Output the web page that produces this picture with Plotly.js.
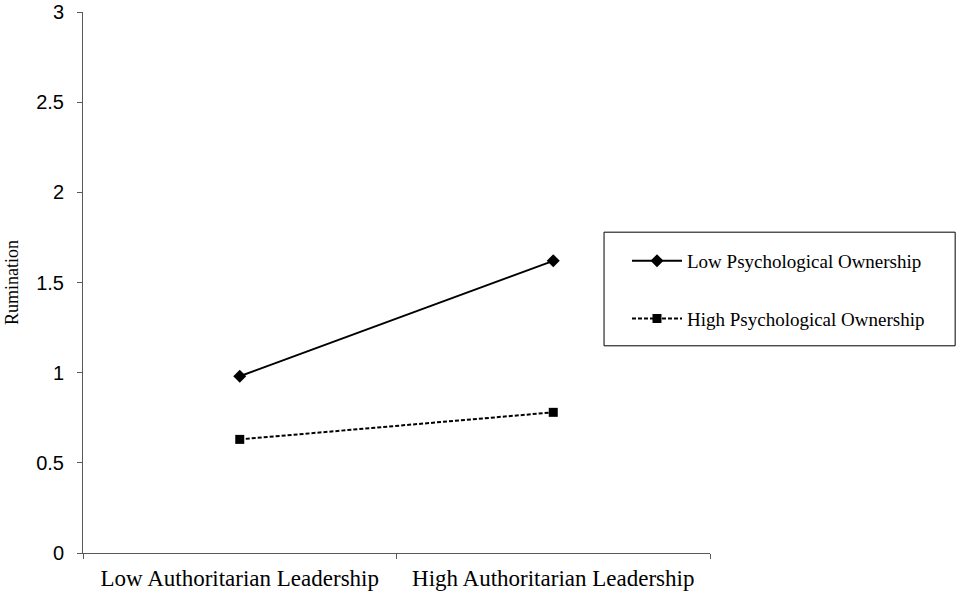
<!DOCTYPE html>
<html>
<head>
<meta charset="utf-8">
<script src="https://cdn.plot.ly/plotly-3.0.1.min.js"></script>
<style>
  html, body { margin: 0; padding: 0; background: #fff; }
  #chart { width: 957px; height: 594px; }
</style>
</head>
<body>
<div id="chart"></div>
<script>
// leadership levels on the x axis
const categories = ['Low Authoritarian Leadership', 'High Authoritarian Leadership'];
// rumination by psychological ownership
const lowOwnership = [0.98, 1.62];
const highOwnership = [0.63, 0.78];
const seriesNames = ['Low Psychological Ownership', 'High Psychological Ownership'];
const yTicks = [0, 0.5, 1, 1.5, 2, 2.5, 3];

const serif = 'Liberation Serif, Times New Roman, serif';
const sans = 'Liberation Sans, Arial, sans-serif';

var data = [{
    x: categories,
    y: lowOwnership,
    name: seriesNames[0],
    mode: 'lines+markers',
    line: {color: '#000', width: 2},
    marker: {symbol: 'diamond', size: 10, color: '#000'},
    legendgroup: 'a'
}, {
    x: categories,
    y: highOwnership,
    name: seriesNames[1],
    mode: 'lines+markers',
    line: {color: '#000', width: 2, dash: '4px,2px'},
    marker: {symbol: 'square', size: 9, color: '#000'},
    legendgroup: 'b'
}];

var layout = {
    width: 957,
    height: 594,
    margin: {l: 83, r: 247, t: 12, b: 41},
    paper_bgcolor: '#fff',
    plot_bgcolor: '#fff',
    showlegend: true,
    legend: {
        x: 0.8676, y: 0.575, xanchor: 'left', yanchor: 'top',
        bgcolor: 'rgba(0,0,0,0)', borderwidth: 0,
        font: {family: serif, size: 19, color: '#000'},
        traceorder: 'grouped', tracegroupgap: 30,
        itemwidth: 50
    },
    // legend frame
    shapes: [{
        type: 'rect', xref: 'paper', yref: 'paper',
        x0: 0.831, x1: 1.391, y0: 0.383, y1: 0.593,
        line: {color: '#000', width: 1}, fillcolor: 'rgba(0,0,0,0)'
    }],
    xaxis: {
        type: 'category',
        range: [-0.5, 1.5],
        showgrid: false, zeroline: false,
        showline: true, linecolor: '#595959', linewidth: 1,
        ticks: 'outside', tickson: 'boundaries', ticklen: 5, tickcolor: '#595959',
        ticklabelstandoff: 4,
        tickfont: {family: serif, size: 23, color: '#000'}
    },
    yaxis: {
        range: [0, 3],
        tickvals: yTicks,
        ticktext: yTicks.map(String),
        showgrid: false, zeroline: false,
        showline: true, linecolor: '#595959', linewidth: 1,
        ticks: 'outside', ticklen: 5, tickcolor: '#595959',
        ticklabelstandoff: 9,
        tickfont: {family: sans, size: 20, color: '#000'},
        title: {text: 'Rumination', font: {family: serif, size: 18, color: '#000'}, standoff: 12}
    }
};

Plotly.newPlot('chart', data, layout, {displayModeBar: false});
</script>
</body>
</html>
